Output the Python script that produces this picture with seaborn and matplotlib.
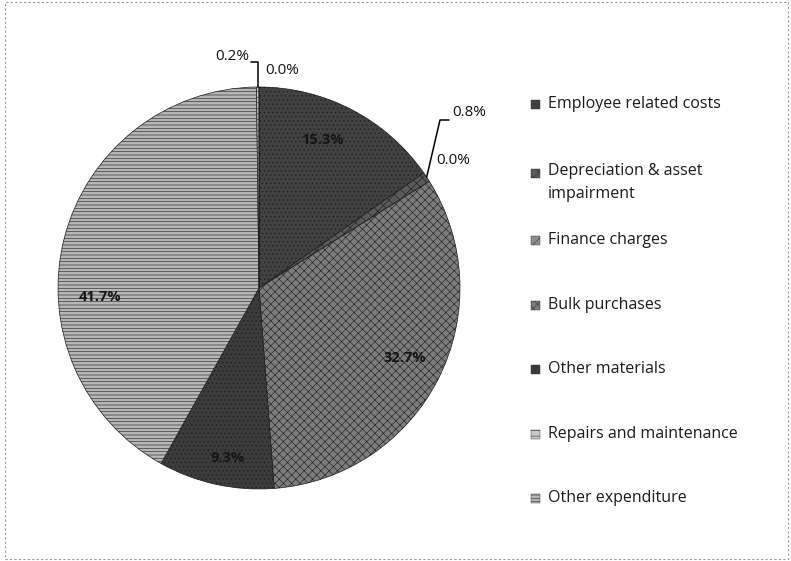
import numpy as np
import matplotlib
matplotlib.use("Agg")
import matplotlib.pyplot as plt
import matplotlib.patches as mpatches
import seaborn as sns

# dane (kolejność rysowania, zgodnie z ruchem wskazówek zegara od góry)
categories = ["Employee related costs", "Depreciation & asset\nimpairment", "Finance charges",
              "Bulk purchases", "Other materials", "Other expenditure",
              "Repairs and maintenance", "Other"]
values = [15.3, 0.8, 0.0, 32.7, 9.3, 41.7, 0.2, 0.0]
legend_order = ["Employee related costs", "Depreciation & asset\nimpairment", "Finance charges",
                "Bulk purchases", "Other materials", "Repairs and maintenance", "Other expenditure"]
colors = ["#424242", "#5a5a5a", "#8e8e8e", "#7c7c7c", "#3c3c3c", "#b6b6b6", "#c8c8c8", "#d2d2d2"]
hatches = ["....", "xxx", "///", "xxxx", "....", "-----", "---", ""]

sns.set_theme(style="white")
plt.rcParams['font.family'] = ['Open Sans', 'DejaVu Sans']
plt.rcParams['hatch.linewidth'] = 0.4
plt.rcParams['hatch.color'] = "#2a2a2a"

fig = plt.figure(figsize=(7.91, 5.61), dpi=100)
W, H = 791, 561
cx, cy, r = 259, 288, 201
ax = fig.add_axes([(cx - r) / W, (H - cy - r) / H, 2 * r / W, 2 * r / H])

wedges, _ = ax.pie(values, startangle=90, counterclock=False, colors=colors,
                   wedgeprops=dict(linewidth=0.5, edgecolor="#1a1a1a"))
for w, h in zip(wedges, hatches):
    w.set_hatch(h)
ax.set_xlim(-1, 1)
ax.set_ylim(-1, 1)
ax.set_aspect("equal")
ax.axis("off")


def px(xp, yp):
    # piksele obrazka -> współrzędne osi
    return (xp - cx) / r, (cy - yp) / r


def edge(w, frac=0.5):
    a = np.deg2rad(w.theta1 + (w.theta2 - w.theta1) * frac)
    return np.cos(a), np.sin(a)


# etykiety wewnątrz dużych wycinków
inside = {0: (322, 140), 3: (405, 358), 4: (228, 458), 5: (100, 297)}
for i, (xp, yp) in inside.items():
    ax.text(*px(xp, yp), f"{values[i]:.1f}%", ha="center", va="center",
            fontsize=10.5, color="#151515", fontweight="bold")

# małe wycinki - etykiety na zewnątrz z liniami
kw = dict(fontsize=11, color="#111111", va="center")
ax.text(*px(249, 56), f"{values[6]:.1f}%", ha="right", **kw)
x0, y0 = edge(wedges[6])
xa, ya = px(251, 62)
ax.plot([xa, x0, x0], [ya, ya, y0], color="black", lw=1.1, clip_on=False)
ax.text(*px(265, 70), f"{values[7]:.1f}%", ha="left", **kw)

ax.text(*px(452, 112), f"{values[1]:.1f}%", ha="left", **kw)
x1, y1 = edge(wedges[1])
xb, yb = px(449, 120)
xc, yc = px(440, 120)
ax.plot([xb, xc, x1], [yb, yc, y1], color="black", lw=1.1, clip_on=False)
ax.text(*px(436, 160), f"{values[2]:.1f}%", ha="left", **kw)

# legenda
legend_y = [104, 173, 240, 305, 369, 434, 498]
for name, yp in zip(legend_order, legend_y):
    i = categories.index(name)
    fig.patches.append(mpatches.Rectangle((531 / W, 1 - (yp + 4.5) / H), 9 / W, 9 / H,
                                          transform=fig.transFigure, facecolor=colors[i],
                                          hatch=hatches[i], edgecolor="#333333", lw=0.3))
    if "\n" in name:
        fig.text(548 / W, 1 - (yp - 10) / H, name, ha="left", va="top",
                 fontsize=11.5, color="#1a1a1a", linespacing=1.55)
    else:
        fig.text(548 / W, 1 - yp / H, name, ha="left", va="center",
                 fontsize=11.5, color="#1a1a1a")

# ramka obrazka
fig.patches.append(mpatches.Rectangle((0.006, 0.004), 0.99, 0.992, transform=fig.transFigure,
                                      fill=False, edgecolor="#999999", lw=0.8, linestyle=(0, (2, 2))))

fig.savefig("out.png", dpi=100)
